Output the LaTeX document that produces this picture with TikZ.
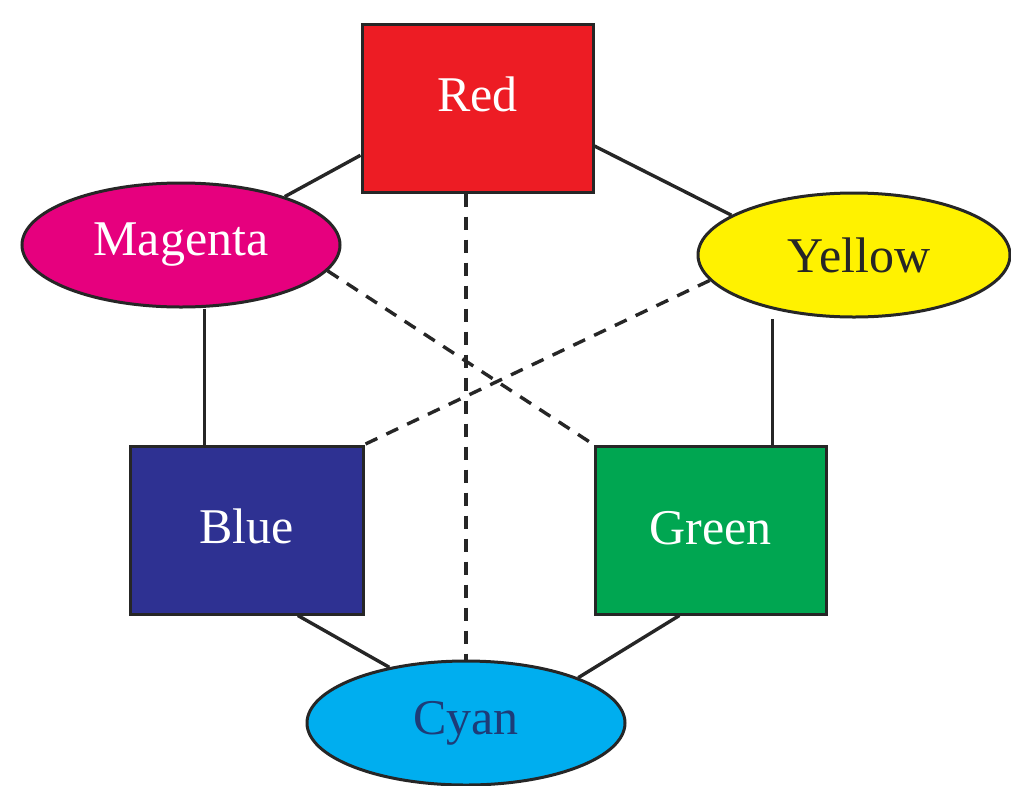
\documentclass[tikz,border=0pt]{standalone}
\usepackage{fontspec}
\setmainfont{Liberation Serif}
\usetikzlibrary{shapes.geometric}
\definecolor{cRed}{HTML}{ED1C24}
\definecolor{cMag}{HTML}{E6007E}
\definecolor{cYel}{HTML}{FFF200}
\definecolor{cBlue}{HTML}{2E3192}
\definecolor{cGreen}{HTML}{00A651}
\definecolor{cCyan}{HTML}{00AEEF}
\definecolor{cyanText}{HTML}{1D3C78}
\definecolor{link}{HTML}{262626}
\begin{document}
\begin{tikzpicture}[x=1pt,y=-1pt,
  box/.style={draw=black!85,line width=3pt,rectangle,minimum width=231pt,minimum height=168pt,inner sep=0pt,font=\fontsize{50}{52}\selectfont},
  oval/.style={draw=black!85,line width=3pt,ellipse,minimum width=318pt,minimum height=124pt,inner sep=0pt,font=\fontsize{50}{52}\selectfont},
  solidlink/.style={draw=link,line width=3.4pt},
  dashlink/.style={draw=link,line width=3.4pt,dash pattern=on 13pt off 10pt}]
\useasboundingbox (0,0) rectangle (1011,785);

% colour nodes
\node[box,fill=cRed,text=white] (red) at (477.5,108) {\raisebox{28pt}{Red}};
\node[oval,fill=cMag,text=white] (mag) at (181,245) {Magenta};
\node[oval,fill=cYel,text=black!85,minimum width=312pt] (yel) at (854,255) {\hspace*{10pt}Yellow};
\node[box,fill=cBlue,text=white,minimum width=233pt] (blue) at (246.5,530) {\raisebox{8pt}{Blue}};
\node[box,fill=cGreen,text=white] (grn) at (710.5,530) {\raisebox{5pt}{Green}};
\node[oval,fill=cCyan,text=cyanText] (cyan) at (466,723) {Cyan};

% solid links around the ring
\draw[solidlink] (red.202) -- (mag.25);
\draw[solidlink] (red.-18) -- (yel.162);
\draw[solidlink] (blue.116.6) -- (blue.116.6 |- mag.south);
\draw[solidlink] (grn.54.6) -- (grn.54.6 |- yel.south);
\draw[solidlink] (blue.-59.3) -- (cyan.144.1);
\draw[solidlink] (grn.250.3) -- (cyan.22.8);

% dashed links between complementary colours
\draw[dashlink] (cyan.north |- red.south) -- (cyan.north);
\draw[dashlink] (mag.-10.6) -- (grn.north west);
\draw[dashlink] (yel.190) -- (blue.north east);
\end{tikzpicture}
\end{document}
